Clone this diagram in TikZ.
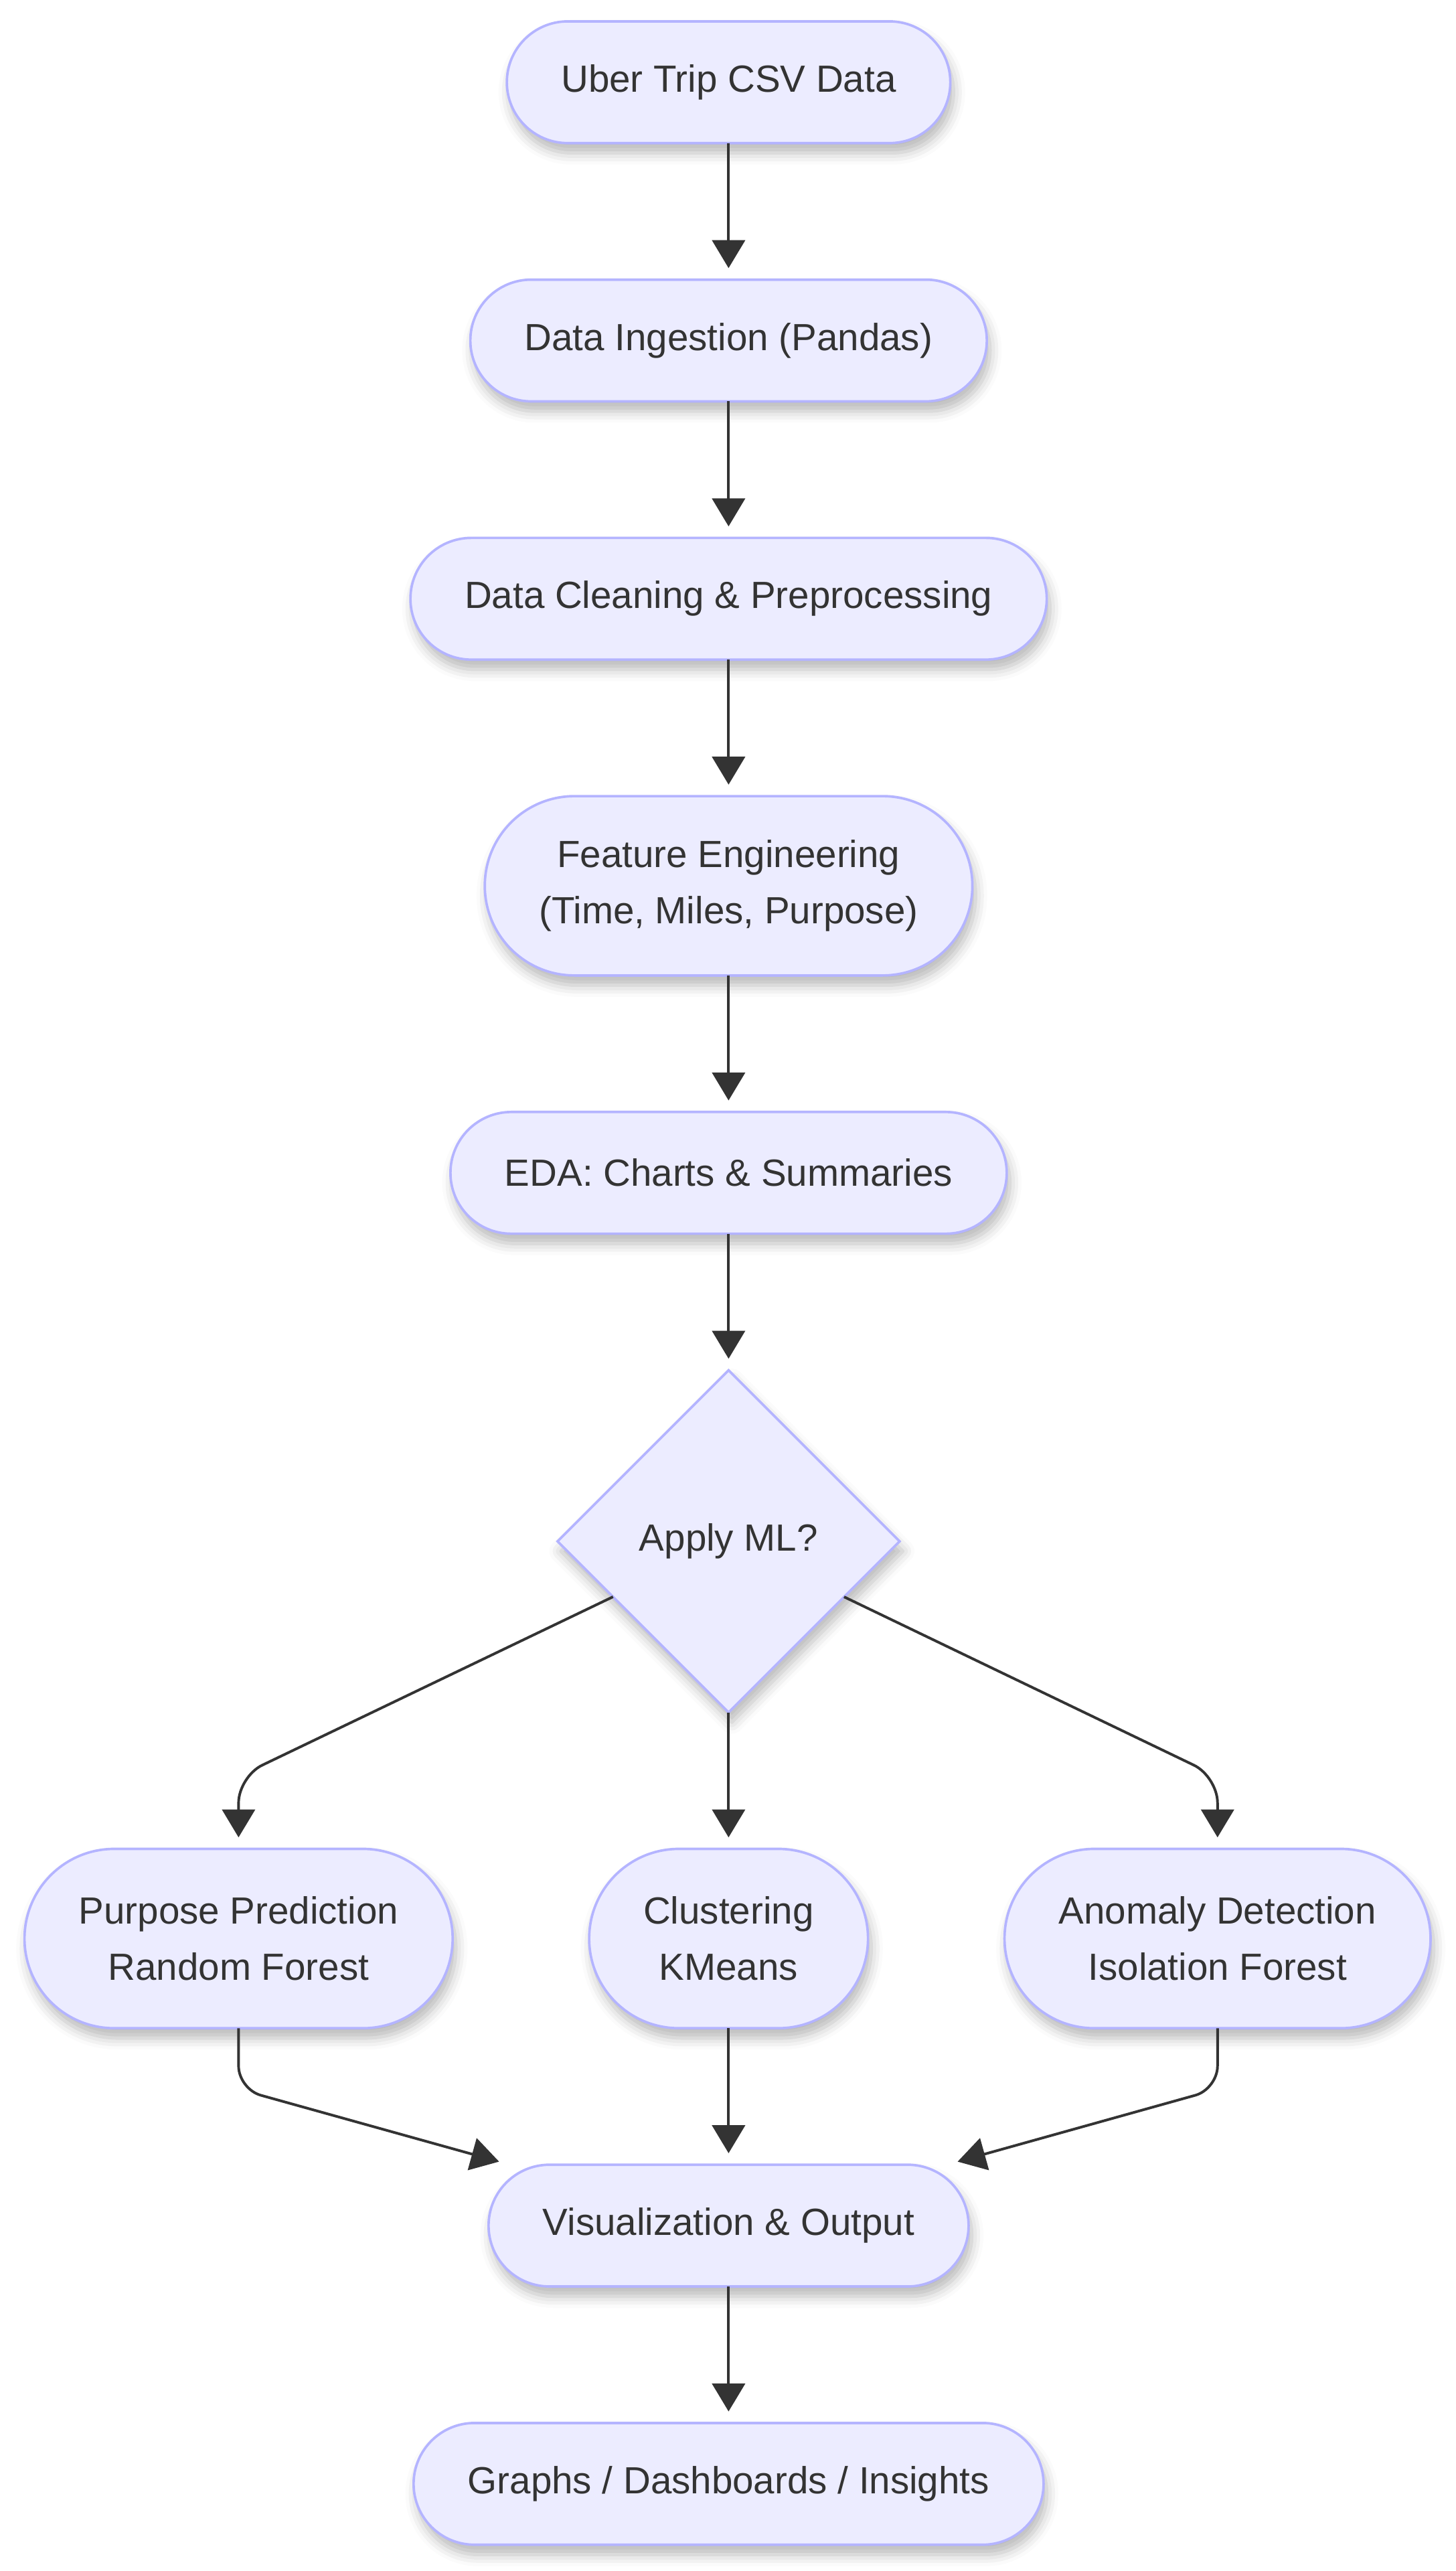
\documentclass[tikz,border=0pt]{standalone}
\usepackage{fontspec}
\setmainfont{Liberation Sans}
\usetikzlibrary{positioning,arrows.meta,shapes.geometric,shadows.blur}
\definecolor{nodefill}{HTML}{ECECFF}
\definecolor{nodeline}{HTML}{B4B4FF}
\definecolor{inkgray}{HTML}{333333}
\tikzset{
  stage/.style={rectangle, rounded corners=18.5pt, minimum height=37pt, inner xsep=16.5pt, inner ysep=0pt, outer sep=0pt, fill=nodefill, draw=nodeline, line width=0.75pt, text=inkgray, font=\fontsize{11.5}{17}\selectfont, align=center, blur shadow={shadow xshift=1pt, shadow yshift=-3pt, shadow blur radius=3.5pt, shadow opacity=28}, node distance=41.5pt},
  stagetwo/.style={stage, rounded corners=27.25pt, minimum height=54.5pt},
  decision/.style={stage, diamond, aspect=1, rounded corners=0pt, minimum width=104pt, minimum height=104pt, inner sep=0pt},
  connect/.style={-{Triangle[width=10pt, length=8.5pt]}, line width=0.8pt, draw=inkgray, shorten >=3.5pt}
}

\begin{document}
\begin{tikzpicture}[x=0.5pt, y=-0.5pt]
		\useasboundingbox (0,0) rectangle (885,1563);
		\node[stage] (csv) at (443,50) {Uber Trip CSV Data};
		\node[stage] (ingest) [below=of csv] {Data Ingestion (Pandas)};
		\node[stage] (clean) [below=of ingest] {Data Cleaning \& Preprocessing};
		\node[stagetwo] (feat) [below=of clean] {Feature Engineering\\(Time, Miles, Purpose)};
		\node[stage] (eda) [below=of feat] {EDA: Charts \& Summaries};
		\node[decision] (mlq) [below=of eda] {Apply ML?};
		\node[stagetwo] (km) [below=of mlq] {Clustering\\KMeans};
		\node[stagetwo] (rf) [left=of km] {Purpose Prediction\\Random Forest};
		\node[stagetwo] (iso) [right=of km] {Anomaly Detection\\Isolation Forest};
		\node[stage] (vis) [below=of km] {Visualization \& Output};
		\node[stage] (out) [below=of vis] {Graphs / Dashboards / Insights};
		\foreach \a/\b in {csv/ingest, ingest/clean, clean/feat, feat/eda, eda/mlq, mlq/km, km/vis, vis/out}
		  \path (\a) edge [connect] (\b);
		\coordinate (rfin) at ([yshift=22pt]rf.north);
		\coordinate (isoin) at ([yshift=22pt]iso.north);
		\coordinate (rfout) at ([yshift=-18.5pt]rf.south);
		\coordinate (isoout) at ([yshift=-18.5pt]iso.south);
		\draw[connect, rounded corners=8pt] (mlq) -- (rfin) -- (rf);
		\draw[connect, rounded corners=8pt] (mlq) -- (isoin) -- (iso);
		\draw[connect, rounded corners=7pt] (rf) -- (rfout) -- (vis);
		\draw[connect, rounded corners=7pt] (iso) -- (isoout) -- (vis);
	\end{tikzpicture}
\end{document}
